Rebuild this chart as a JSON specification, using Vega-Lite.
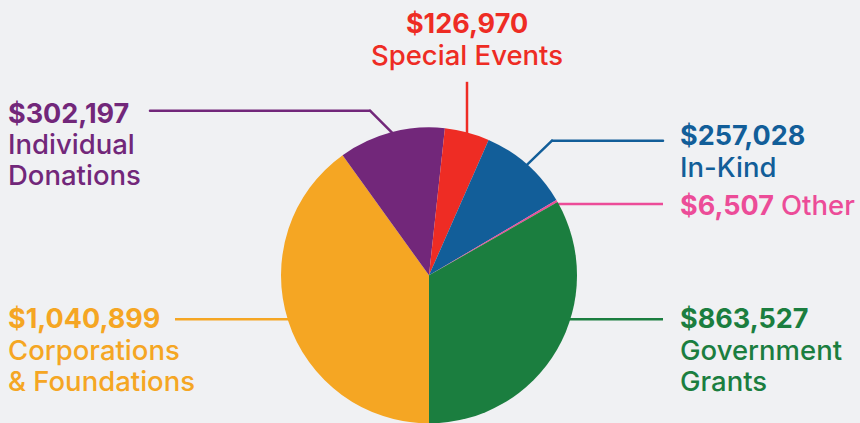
{
  "$schema": "https://vega.github.io/schema/vega-lite/v6.json",
  "width": 860,
  "height": 423,
  "autosize": {"type": "fit", "contains": "padding"},
  "padding": 0,
  "background": "#f0f1f3",
  "config": {
    "view": {"stroke": null},
    "axis": {"disable": true},
    "legend": {"disable": true},
    "text": {"font": "Inter", "fontSize": 27}
  },
  "data": {
    "values": [
      {"category": "Corporations & Foundations", "amount": 1040899},
      {"category": "Individual Donations", "amount": 302197},
      {"category": "Special Events", "amount": 126970},
      {"category": "In-Kind", "amount": 257028},
      {"category": "Other", "amount": 6507},
      {"category": "Government Grants", "amount": 863527}
    ]
  },
  "transform": [{"window": [{"op": "row_number", "as": "idx"}]}],
  "layer": [
    {
      "transform": [{"filter": "datum.category === 'Individual Donations'"}],
      "mark": {"type": "rule", "strokeWidth": 2.5, "strokeCap": "round"},
      "encoding": {
        "x": {"datum": 150, "type": "quantitative", "scale": {"domain": [0, 860], "nice": false, "zero": false}},
        "y": {"datum": 111, "type": "quantitative", "scale": {"domain": [0, 423], "nice": false, "zero": false, "reverse": true}},
        "x2": {"datum": 370}, "y2": {"datum": 111},
        "color": {"field": "category", "type": "nominal", "scale": {
          "domain": ["Corporations & Foundations", "Individual Donations", "Special Events", "In-Kind", "Other", "Government Grants"],
          "range": ["#f5a623", "#72277a", "#ee2c24", "#125e99", "#ec4c98", "#1b7e3f"]}}
      }
    },
    {
      "transform": [{"filter": "datum.category === 'Individual Donations'"}],
      "mark": {"type": "rule", "strokeWidth": 2.5, "strokeCap": "round"},
      "encoding": {"x": {"datum": 370}, "y": {"datum": 111}, "x2": {"datum": 395}, "y2": {"datum": 136},
        "color": {"field": "category", "type": "nominal"}}
    },
    {
      "transform": [{"filter": "datum.category === 'Special Events'"}],
      "mark": {"type": "rule", "strokeWidth": 2.5},
      "encoding": {"x": {"datum": 467}, "y": {"datum": 82}, "x2": {"datum": 467}, "y2": {"datum": 140},
        "color": {"field": "category", "type": "nominal"}}
    },
    {
      "transform": [{"filter": "datum.category === 'In-Kind'"}],
      "mark": {"type": "rule", "strokeWidth": 2.5, "strokeCap": "round"},
      "encoding": {"x": {"datum": 663}, "y": {"datum": 141}, "x2": {"datum": 552}, "y2": {"datum": 141},
        "color": {"field": "category", "type": "nominal"}}
    },
    {
      "transform": [{"filter": "datum.category === 'In-Kind'"}],
      "mark": {"type": "rule", "strokeWidth": 2.5, "strokeCap": "round"},
      "encoding": {"x": {"datum": 552}, "y": {"datum": 141}, "x2": {"datum": 523}, "y2": {"datum": 169},
        "color": {"field": "category", "type": "nominal"}}
    },
    {
      "transform": [{"filter": "datum.category === 'Other'"}],
      "mark": {"type": "rule", "strokeWidth": 2.5},
      "encoding": {"x": {"datum": 663}, "y": {"datum": 204.5}, "x2": {"datum": 555}, "y2": {"datum": 204.5},
        "color": {"field": "category", "type": "nominal"}}
    },
    {
      "transform": [{"filter": "datum.category === 'Government Grants'"}],
      "mark": {"type": "rule", "strokeWidth": 2.5},
      "encoding": {"x": {"datum": 663}, "y": {"datum": 320}, "x2": {"datum": 565}, "y2": {"datum": 320},
        "color": {"field": "category", "type": "nominal"}}
    },
    {
      "transform": [{"filter": "datum.category === 'Corporations & Foundations'"}],
      "mark": {"type": "rule", "strokeWidth": 2.5},
      "encoding": {"x": {"datum": 175}, "y": {"datum": 320}, "x2": {"datum": 290}, "y2": {"datum": 320},
        "color": {"field": "category", "type": "nominal"}}
    },
    {
      "mark": {"type": "arc", "outerRadius": 148},
      "encoding": {
        "x": {"datum": 429},
        "y": {"datum": 276},
        "theta": {"field": "amount", "type": "quantitative", "scale": {"range": [3.14159265, 9.42477796]}},
        "order": {"field": "idx", "type": "quantitative"},
        "color": {"field": "category", "type": "nominal"}
      }
    },
    {
      "transform": [{"filter": "datum.category === 'Individual Donations'"}],
      "mark": {"type": "text", "fontWeight": "bold", "align": "left", "baseline": "alphabetic"},
      "encoding": {"x": {"datum": 8}, "y": {"datum": 123},
        "text": {"field": "amount", "type": "quantitative", "format": "$,d"},
        "color": {"field": "category", "type": "nominal"}}
    },
    {
      "transform": [{"filter": "datum.category === 'Individual Donations'"}],
      "mark": {"type": "text", "fontWeight": 500, "fontSize": 27.5, "align": "left", "baseline": "alphabetic", "lineBreak": " ", "lineHeight": 31},
      "encoding": {"x": {"datum": 8}, "y": {"datum": 154},
        "text": {"field": "category", "type": "nominal"},
        "color": {"field": "category", "type": "nominal"}}
    },
    {
      "transform": [{"filter": "datum.category === 'Special Events'"}],
      "mark": {"type": "text", "fontWeight": "bold", "align": "center", "baseline": "alphabetic"},
      "encoding": {"x": {"datum": 467}, "y": {"datum": 33},
        "text": {"field": "amount", "type": "quantitative", "format": "$,d"},
        "color": {"field": "category", "type": "nominal"}}
    },
    {
      "transform": [{"filter": "datum.category === 'Special Events'"}],
      "mark": {"type": "text", "fontWeight": 500, "fontSize": 27.5, "align": "center", "baseline": "alphabetic"},
      "encoding": {"x": {"datum": 467}, "y": {"datum": 65},
        "text": {"field": "category", "type": "nominal"},
        "color": {"field": "category", "type": "nominal"}}
    },
    {
      "transform": [{"filter": "datum.category === 'In-Kind'"}],
      "mark": {"type": "text", "fontWeight": "bold", "align": "left", "baseline": "alphabetic"},
      "encoding": {"x": {"datum": 680}, "y": {"datum": 145},
        "text": {"field": "amount", "type": "quantitative", "format": "$,d"},
        "color": {"field": "category", "type": "nominal"}}
    },
    {
      "transform": [{"filter": "datum.category === 'In-Kind'"}],
      "mark": {"type": "text", "fontWeight": 500, "fontSize": 27.5, "align": "left", "baseline": "alphabetic"},
      "encoding": {"x": {"datum": 680}, "y": {"datum": 177},
        "text": {"field": "category", "type": "nominal"},
        "color": {"field": "category", "type": "nominal"}}
    },
    {
      "transform": [{"filter": "datum.category === 'Other'"}],
      "mark": {"type": "text", "fontWeight": "bold", "align": "left", "baseline": "alphabetic"},
      "encoding": {"x": {"datum": 680}, "y": {"datum": 216},
        "text": {"field": "amount", "type": "quantitative", "format": "$,d"},
        "color": {"field": "category", "type": "nominal"}}
    },
    {
      "transform": [{"filter": "datum.category === 'Other'"}],
      "mark": {"type": "text", "fontWeight": 500, "fontSize": 27.5, "align": "left", "baseline": "alphabetic"},
      "encoding": {"x": {"datum": 781}, "y": {"datum": 216},
        "text": {"field": "category", "type": "nominal"},
        "color": {"field": "category", "type": "nominal"}}
    },
    {
      "transform": [{"filter": "datum.category === 'Government Grants'"}],
      "mark": {"type": "text", "fontWeight": "bold", "align": "left", "baseline": "alphabetic"},
      "encoding": {"x": {"datum": 680}, "y": {"datum": 329},
        "text": {"field": "amount", "type": "quantitative", "format": "$,d"},
        "color": {"field": "category", "type": "nominal"}}
    },
    {
      "transform": [{"filter": "datum.category === 'Government Grants'"}],
      "mark": {"type": "text", "fontWeight": 500, "fontSize": 27.5, "align": "left", "baseline": "alphabetic", "lineBreak": " ", "lineHeight": 31},
      "encoding": {"x": {"datum": 680}, "y": {"datum": 361},
        "text": {"field": "category", "type": "nominal"},
        "color": {"field": "category", "type": "nominal"}}
    },
    {
      "transform": [{"filter": "datum.category === 'Corporations & Foundations'"}],
      "mark": {"type": "text", "fontWeight": "bold", "align": "left", "baseline": "alphabetic"},
      "encoding": {"x": {"datum": 8}, "y": {"datum": 329},
        "text": {"field": "amount", "type": "quantitative", "format": "$,d"},
        "color": {"field": "category", "type": "nominal"}}
    },
    {
      "transform": [
        {"filter": "datum.category === 'Corporations & Foundations'"},
        {"calculate": "replace(datum.category, ' & ', '|& ')", "as": "lbl"}
      ],
      "mark": {"type": "text", "fontWeight": 500, "fontSize": 27.5, "align": "left", "baseline": "alphabetic", "lineBreak": "|", "lineHeight": 31},
      "encoding": {"x": {"datum": 8}, "y": {"datum": 361},
        "text": {"field": "lbl", "type": "nominal"},
        "color": {"field": "category", "type": "nominal"}}
    }
  ]
}
